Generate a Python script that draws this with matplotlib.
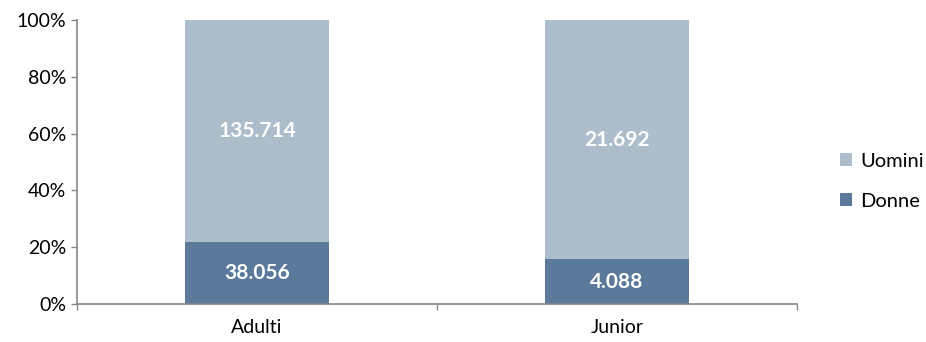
import matplotlib.pyplot as plt
import numpy as np
from matplotlib.ticker import PercentFormatter

categories = ["Adulti", "Junior"]
donne = [38056, 4088]
uomini = [135714, 21692]
donne_labels = ["38.056", "4.088"]
uomini_labels = ["135.714", "21.692"]

c_donne = "#5B7A9B"
c_uomini = "#ADBDCC"
c_axis = "#878787"

plt.rcParams["font.family"] = ["Lato", "DejaVu Sans"]

fig = plt.figure(figsize=(9.26, 3.42), dpi=100)
ax = fig.add_axes([0.0832, 0.111, 0.7775, 0.8305])

x = np.arange(len(categories))
tot = np.array(donne) + np.array(uomini)
p_d = np.array(donne) / tot
p_u = np.array(uomini) / tot

ax.bar(x, p_d, width=0.4, color=c_donne, label="Donne")
ax.bar(x, p_u, width=0.4, bottom=p_d, color=c_uomini, label="Uomini")

for i in range(len(x)):
    ax.text(x[i], p_d[i] / 2, donne_labels[i], ha="center", va="center",
            color="white", fontsize=15, fontweight="bold")
    ax.text(x[i], p_d[i] + p_u[i] / 2, uomini_labels[i], ha="center",
            va="center", color="white", fontsize=15, fontweight="bold")

ax.set_xlim(-0.5, len(x) - 0.5)
ax.set_ylim(0, 1)
ax.set_yticks(np.linspace(0, 1, 6))
ax.yaxis.set_major_formatter(PercentFormatter(1.0, decimals=0))

# boundary ticks between categories, labels centred on bars
ax.set_xticks(np.arange(-0.5, len(x), 1.0))
ax.set_xticklabels([])
ax.set_xticks(x, minor=True)
ax.set_xticklabels(categories, minor=True)
ax.tick_params(axis="x", which="minor", length=0, pad=11, labelsize=14)
ax.tick_params(axis="x", which="major", length=4, width=1, color=c_axis)
ax.tick_params(axis="y", length=4, width=1, color=c_axis, labelsize=14, pad=4)

for side in ["top", "right"]:
    ax.spines[side].set_visible(False)
for side in ["left", "bottom"]:
    ax.spines[side].set_color(c_axis)
    ax.spines[side].set_linewidth(1.2)

handles, labels = ax.get_legend_handles_labels()
leg = fig.legend(handles[::-1], labels[::-1], loc="center left",
                 bbox_to_anchor=(0.896, 0.47), frameon=False, fontsize=14.5,
                 handlelength=0.6, handleheight=0.6, handletextpad=0.4,
                 labelspacing=1.15, borderpad=0.0)

fig.savefig("out.png", dpi=100)
